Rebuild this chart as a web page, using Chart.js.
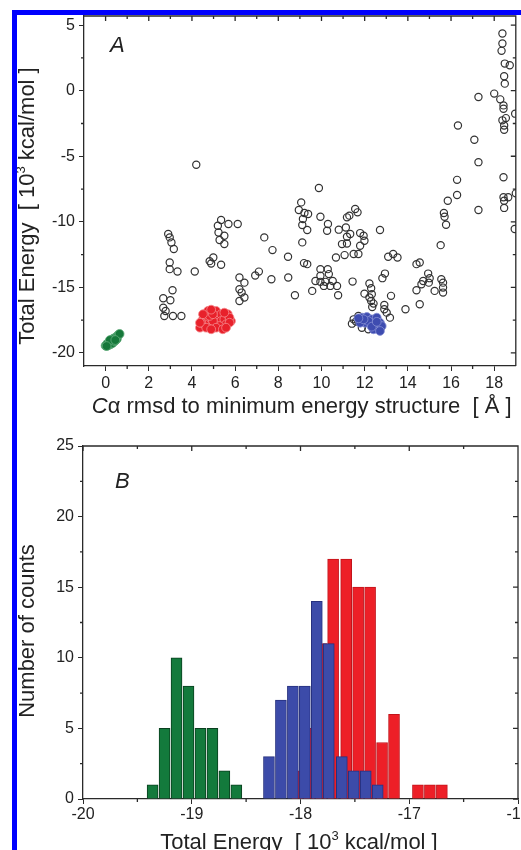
<!DOCTYPE html>
<html>
<head>
<meta charset="utf-8">
<script src="https://cdn.jsdelivr.net/npm/chart.js@4.4.1/dist/chart.umd.min.js"></script>
<style>
  body { margin: 0; background: #fff; }
  #page { position: relative; width: 521px; height: 850px; overflow: hidden; background: #fff; }
  canvas { position: absolute; left: 0; }
  .ttl { position: absolute; font: 22px/22px "Liberation Sans", Arial, sans-serif; color: #222; white-space: pre; }
  .ttl sup { font-size: 13px; line-height: 0; vertical-align: 9px; }
  .rot { transform: translate(-50%, -50%) rotate(-90deg); }
  .panel { position: absolute; font: italic 22px/22px "Liberation Sans", Arial, sans-serif; color: #222; }
  #frame { position: absolute; left: 12px; top: 10px; width: 520px; height: 850px; border-left: 5px solid #0000fe; border-top: 5px solid #0000fe; }
</style>
</head>
<body>
<div id="page">
  <canvas id="chartA" width="521" height="430" style="top:0"></canvas>
  <canvas id="chartB" width="521" height="420" style="top:430px"></canvas>

  <div class="panel" style="left:110px; top:34px">A</div>
  <div class="panel" style="left:115px; top:470px">B</div>

  <div class="ttl rot" style="left:26.5px; top:206px">Total Energy  [ 10<sup>3</sup> kcal/mol ]</div>
  <div class="ttl" style="left:301.7px; top:395px; transform:translateX(-50%)"><i>C</i>α rmsd to minimum energy structure  [ Å ]</div>

  <div class="ttl rot" style="left:26.5px; top:631px">Number of counts</div>
  <div class="ttl" style="left:299px; top:831px; transform:translateX(-50%)">Total Energy  [ 10<sup>3</sup> kcal/mol ]</div>

  <div id="frame"></div>
</div>

<script>
// ---- Panel A: energy vs C-alpha rmsd (x, y) ----
const OPEN_PTS = [
  [4.2, -5.65],
  [2.9, -10.93], [2.97, -11.19], [3.05, -11.58], [3.16, -12.08], [2.97, -13.1], [2.97, -13.61],
  [3.33, -13.79], [3.1, -15.22], [2.67, -15.83], [3.0, -15.98], [2.67, -16.55], [2.78, -16.8],
  [2.72, -17.18], [3.12, -17.18], [3.51, -17.18], [4.13, -13.79],
  [5.35, -9.86], [5.2, -10.3], [5.69, -10.17], [6.12, -10.17], [5.23, -10.81], [5.5, -11.06],
  [5.28, -11.39], [5.5, -11.7], [4.99, -12.72], [4.89, -13.18], [5.35, -13.28], [4.82, -13.0],
  [6.2, -14.25], [6.43, -14.64], [6.3, -15.4], [6.2, -15.14], [6.43, -15.78], [6.2, -16.04],
  [6.93, -14.1], [7.1, -13.8],
  [7.35, -11.19], [7.73, -12.16], [8.45, -12.67], [7.68, -14.38], [8.46, -14.25], [8.77, -15.6],
  [9.88, -7.42], [9.06, -8.52], [8.95, -9.1], [9.21, -9.33], [9.38, -9.4], [9.95, -9.61],
  [9.14, -9.79], [9.11, -10.25], [9.34, -10.63], [10.3, -10.17], [10.26, -10.68], [10.8, -10.6],
  [9.11, -11.57],
  [11.18, -9.66], [11.29, -9.53], [11.56, -9.02], [11.67, -9.28], [11.13, -10.43], [11.18, -11.14],
  [10.95, -11.7], [11.18, -11.65], [11.33, -10.93], [11.79, -10.86], [11.95, -11.06], [11.99, -11.45],
  [11.79, -11.83], [11.71, -12.46], [11.49, -12.46], [11.07, -12.54], [10.67, -12.72], [12.71, -10.63],
  [9.19, -13.15], [9.34, -13.23], [9.95, -13.61], [9.95, -14.12], [10.29, -13.61], [10.34, -13.99],
  [9.72, -14.51], [9.95, -14.58], [10.18, -14.58], [10.52, -14.51], [10.11, -14.89], [10.41, -14.89],
  [10.72, -14.89], [9.57, -15.27], [10.77, -15.6],
  [11.44, -14.56], [12.22, -14.71], [12.3, -15.07], [11.99, -15.48], [12.33, -15.52], [12.22, -15.78],
  [12.3, -16.04], [12.41, -16.24], [12.35, -16.5],
  [12.94, -13.95], [12.82, -14.3], [13.09, -12.67], [13.32, -12.46], [13.52, -12.72], [13.22, -15.65],
  [12.91, -16.34], [12.91, -16.67], [13.02, -16.93], [13.17, -17.31], [13.89, -16.67], [14.55, -16.29],
  [11.49, -17.44], [11.41, -17.77], [11.71, -17.19], [11.87, -18.08], [12.17, -18.2], [11.6, -17.6],
  [14.4, -13.23], [14.55, -13.11], [14.4, -15.22], [14.63, -14.76], [14.71, -14.51], [14.94, -13.95],
  [15.01, -14.3], [14.97, -14.64], [15.24, -15.27], [15.55, -14.38], [15.63, -14.64], [15.63, -15.02],
  [15.63, -15.4], [15.52, -11.78], [15.77, -10.22], [15.67, -9.33], [15.7, -9.61], [15.85, -8.39],
  [16.28, -6.8], [16.28, -7.95], [16.32, -2.65], [17.08, -3.74], [17.27, -5.45], [17.27, -9.1],
  [17.27, -0.48],
  [18.38, 4.37], [18.38, 3.6], [18.34, 3.04], [18.49, 2.07], [18.72, 1.94], [18.46, 1.1],
  [18.49, 0.54], [18.0, -0.22], [18.28, -0.66], [18.43, -1.12], [18.43, -1.37], [18.97, -1.75],
  [18.54, -2.09], [18.38, -2.26], [18.46, -2.65], [18.46, -2.98], [18.43, -6.6], [18.43, -8.13],
  [18.65, -8.13], [18.46, -8.39], [18.46, -8.94], [19.0, -7.83], [18.95, -10.55]
];

const GREEN_PTS = [
  [0.0, -19.45], [0.08, -19.3], [0.12, -19.42], [0.18, -19.2], [0.22, -19.35], [0.28, -19.1],
  [0.32, -19.25], [0.3, -18.98], [0.38, -18.9], [0.42, -19.1], [0.47, -18.82], [0.52, -18.95],
  [0.55, -18.7], [0.6, -18.62], [0.65, -18.55], [0.2, -19.02], [0.45, -19.02], [0.05, -19.48]
];

const RED_PTS = [
  [4.37, -18.08], [4.51, -17.44], [4.74, -16.8], [4.74, -17.31], [4.89, -17.82], [5.12, -17.18],
  [5.12, -16.8], [5.35, -17.05], [5.35, -17.57], [5.5, -17.44], [5.66, -17.05], [5.81, -17.57],
  [5.58, -17.82], [5.27, -17.95], [4.97, -17.57], [4.59, -17.82], [4.43, -17.7], [5.12, -18.08],
  [5.43, -18.2], [5.74, -17.31], [4.82, -17.18], [4.66, -18.08], [4.97, -17.05], [4.89, -16.7],
  [5.5, -16.93], [4.51, -17.05], [5.74, -17.7], [4.37, -17.7], [4.89, -18.2], [5.58, -18.08]
];

const BLUE_PTS = [
  [11.88, -17.31], [12.1, -17.26], [12.33, -17.44], [12.56, -17.31], [12.71, -17.7], [12.25, -17.82],
  [12.02, -17.7], [12.48, -17.82], [12.64, -18.08], [12.41, -18.2], [12.79, -17.95], [11.79, -17.7],
  [12.17, -17.57], [11.95, -17.44], [12.71, -18.33], [12.33, -18.0], [11.71, -17.36], [12.56, -17.63]
];

const A_X_TICKS = [0, 2, 4, 6, 8, 10, 12, 14, 16, 18];
const A_X_MINOR = [1, 3, 5, 7, 9, 11, 13, 15, 17];
const A_Y_TICKS = [-20, -15, -10, -5, 0, 5];
const A_Y_MINOR = [-17.5, -12.5, -7.5, -2.5, 2.5];

// ---- Panel B: histograms of total energy (bin centres, counts) ----
const GREEN_BINS = [-19.36, -19.25, -19.14, -19.03, -18.92, -18.81, -18.70, -18.59];
const GREEN_COUNTS = [1, 5, 10, 8, 5, 5, 2, 1];
const BLUE_BINS = [-18.29, -18.18, -18.07, -17.96, -17.85, -17.74, -17.62, -17.51, -17.40, -17.29];
const BLUE_COUNTS = [3, 7, 8, 8, 14, 11, 3, 2, 2, 1];
const RED_BINS = [-18.03, -17.92, -17.81, -17.70, -17.58, -17.47, -17.36, -17.25, -17.14, -16.92, -16.81, -16.70];
const RED_COUNTS = [2, 5, 11, 17, 17, 15, 15, 4, 6, 1, 1, 1];

const B_X_TICKS = [-20, -19, -18, -17, -16];
const B_X_MINOR = [-19.5, -18.5, -17.5, -16.5];
const B_Y_TICKS = [0, 5, 10, 15, 20, 25];
const B_Y_MINOR = [2.5, 7.5, 12.5, 17.5, 22.5];

const AXIS_COLOR = '#2a2a2a';

Chart.defaults.font.family = '"Liberation Sans", Arial, sans-serif';
Chart.defaults.font.size = 16;
Chart.defaults.color = '#222';

// Draws the top/right frame, inward ticks there, and the minor ticks outside
const frameTicks = {
    id: 'frameTicks',
    afterDatasetsDraw(chart, args, opts) {
        const { ctx, chartArea: a, scales: { x, y } } = chart;
        ctx.save();
        ctx.strokeStyle = AXIS_COLOR;
        ctx.lineWidth = 1.3;
        ctx.beginPath();
        ctx.moveTo(a.left, a.top);
        ctx.lineTo(a.right, a.top);
        ctx.lineTo(a.right, a.bottom);
        opts.xMinor.forEach(v => {
            const px = x.getPixelForValue(v);
            ctx.moveTo(px, a.bottom); ctx.lineTo(px, a.bottom + 3);
            ctx.moveTo(px, a.top); ctx.lineTo(px, a.top + 3);
        });
        opts.xMajor.forEach(v => {
            const px = x.getPixelForValue(v);
            ctx.moveTo(px, a.top); ctx.lineTo(px, a.top + 5);
        });
        opts.yMinor.forEach(v => {
            const py = y.getPixelForValue(v);
            ctx.moveTo(a.left, py); ctx.lineTo(a.left - 3, py);
            ctx.moveTo(a.right, py); ctx.lineTo(a.right - 3, py);
        });
        opts.yMajor.forEach(v => {
            const py = y.getPixelForValue(v);
            ctx.moveTo(a.right, py); ctx.lineTo(a.right - 5, py);
        });
        ctx.stroke();
        ctx.restore();
    }
};

function axis(min, max, ticks, size, isX, pad) {
    return {
        type: 'linear',
        min: min,
        max: max,
        offset: false,
        afterBuildTicks: s => { s.ticks = ticks.map(v => ({ value: v })); },
        afterFit: s => {
            if (isX) { s.height = size; s.paddingLeft = 0; s.paddingRight = 0; }
            else { s.width = size; s.paddingTop = 0; s.paddingBottom = 0; }
        },
        border: { display: true, color: AXIS_COLOR, width: 1.3 },
        grid: { display: true, drawOnChartArea: false, drawTicks: true, tickLength: 5, color: AXIS_COLOR, offset: false },
        ticks: { padding: pad, maxRotation: 0, autoSkip: false, color: '#222' }
    };
}

const pts = list => list.map(p => ({ x: p[0], y: p[1] }));

new Chart(document.getElementById('chartA'), {
    type: 'scatter',
    data: {
        datasets: [
            { data: pts(BLUE_PTS), pointRadius: 4.4, backgroundColor: '#3e4cb0', borderColor: '#8890d4', borderWidth: 0.8 },
            { data: pts(RED_PTS), pointRadius: 4.4, backgroundColor: '#e8212b', borderColor: '#f58a8e', borderWidth: 0.8 },
            { data: pts(GREEN_PTS), pointRadius: 4.4, backgroundColor: '#16783a', borderColor: '#62ad7c', borderWidth: 0.8 },
            { data: pts(OPEN_PTS), pointRadius: 3.6, backgroundColor: 'rgba(0,0,0,0)', borderColor: '#333', borderWidth: 1.2 }
        ]
    },
    options: {
        responsive: false,
        animation: false,
        layout: { padding: { left: 0, top: 16, right: 3, bottom: 0 } },
        plugins: {
            legend: { display: false },
            tooltip: { enabled: false },
            frameTicks: { xMajor: A_X_TICKS, xMinor: A_X_MINOR, yMajor: A_Y_TICKS, yMinor: A_Y_MINOR }
        },
        scales: {
            x: axis(-1, 19, A_X_TICKS, 64, true, 3),
            y: axis(-21, 5.7, A_Y_TICKS, 84, false, 4)
        }
    },
    plugins: [frameTicks]
});

const bars = (bins, counts) => bins.map((b, i) => ({ x: b, y: counts[i] }));

new Chart(document.getElementById('chartB'), {
    type: 'bar',
    data: {
        datasets: [
            { data: bars(BLUE_BINS, BLUE_COUNTS), backgroundColor: '#3c4ba9', borderColor: '#27317f', borderWidth: 1 },
            { data: bars(RED_BINS, RED_COUNTS), backgroundColor: '#ed1f27', borderColor: '#c2141b', borderWidth: 1 },
            { data: bars(GREEN_BINS, GREEN_COUNTS), backgroundColor: '#137a3c', borderColor: '#0a3f1f', borderWidth: 1 }
        ]
    },
    options: {
        responsive: false,
        animation: false,
        grouped: false,
        barThickness: 11,
        layout: { padding: { left: 0, top: 16, right: 3, bottom: 0 } },
        plugins: {
            legend: { display: false },
            tooltip: { enabled: false },
            frameTicks: { xMajor: B_X_TICKS, xMinor: B_X_MINOR, yMajor: B_Y_TICKS, yMinor: B_Y_MINOR }
        },
        scales: {
            x: axis(-20, -16, B_X_TICKS, 51, true, 1),
            y: axis(0, 25, B_Y_TICKS, 83, false, 4)
        }
    },
    plugins: [frameTicks]
});
</script>
</body>
</html>
